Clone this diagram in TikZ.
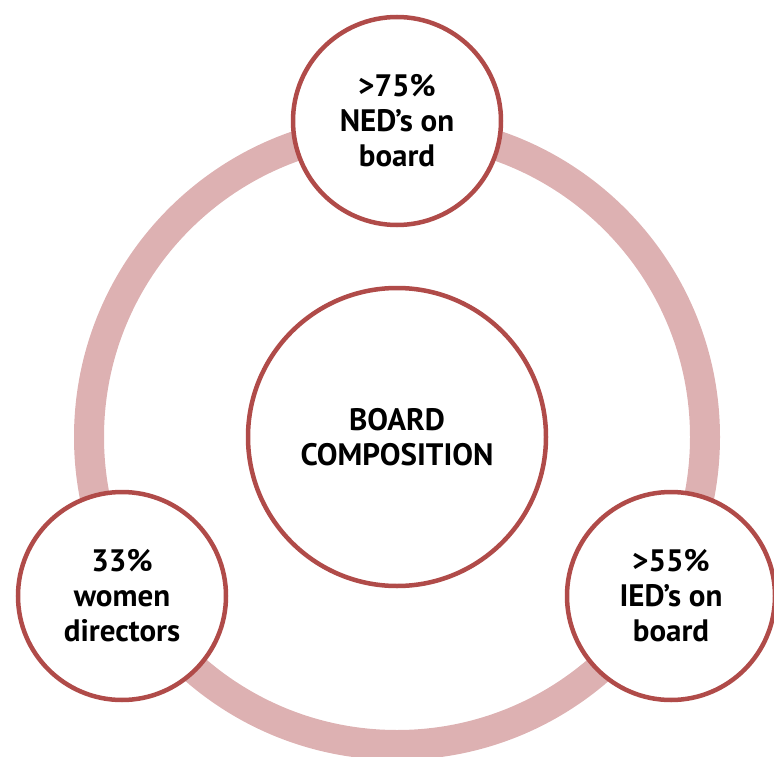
\documentclass[tikz,border=0pt]{standalone}
\usepackage{fontspec}
\setmainfont{PT Sans}
\usepackage{tikz}
\definecolor{ringpink}{HTML}{DDB1B2}
\definecolor{rimred}{HTML}{B04B49}
\tikzset{
  bubble/.style={circle, draw=rimred, line width=4.5pt, fill=white,
    minimum size=208pt, inner sep=0pt, align=center,
    font=\fontsize{31}{35}\selectfont\bfseries},
  ring/.style={draw=ringpink, line width=30pt}
}

\begin{document}
\begin{tikzpicture}[x=1pt,y=-1pt]
\useasboundingbox (0,0) rectangle (774,757);
\coordinate (mid) at (397,437);
\draw[ring] (mid) circle [radius=308pt];

\node[bubble, minimum size=298pt] (board) at (mid) {BOARD\\COMPOSITION};
\node[bubble] (ned) at (397,121) {>75\%\\NED’s on\\board};
\node[bubble] (women) at (122,596) {33\%\\women\\directors};
\node[bubble] (ied) at (671,596) {>55\%\\IED’s on\\board};
\end{tikzpicture}
\end{document}
